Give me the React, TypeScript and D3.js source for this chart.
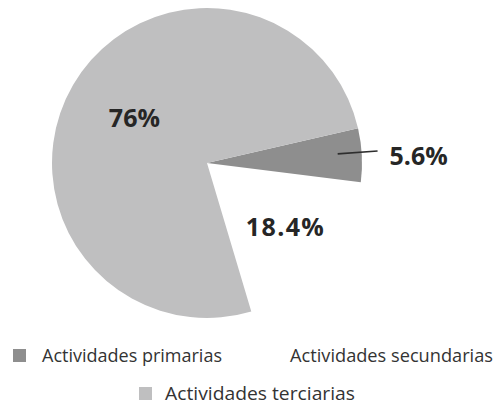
import * as d3 from "d3";
import React from "react";

const categories = ["Actividades primarias", "Actividades secundarias", "Actividades terciarias"];
const values = [5.6, 18.4, 76];
const valueLabels = ["5.6%", "18.4%", "76%"];
const colors = ["#8e8e8e", "none", "#bfbfc0"];

const W = 495;
const H = 404;
const cx = 207;
const cy = 163;
const radius = 155;
const deg = Math.PI / 180;

function App() {
  const pie = d3
    .pie<number>()
    .sort(null)
    .startAngle(77 * deg)
    .endAngle(77 * deg + 2 * Math.PI);
  const arcs = pie(values);
  const arc = d3.arc<d3.PieArcDatum<number>>().innerRadius(0).outerRadius(radius);

  // label radius for each slice (inside labels), the small one uses a leader line
  const labelR = [0, 102, 84];
  const polar = (a: number, r: number) => [Math.sin(a) * r, -Math.cos(a) * r];

  const leadAngle = 86 * deg;
  const [lx1, ly1] = polar(leadAngle, 131);
  const [lx2, ly2] = polar(leadAngle, 171);

  const labelStyle = {
    fontFamily: "'Open Sans', sans-serif",
    fontWeight: 700,
    fontSize: 25,
    fill: "#262626",
  };

  return (
    <svg width={W} height={H} style={{ display: "block", position: "absolute", left: 0, top: 0 }}>
      <rect width={W} height={H} fill="#ffffff" />
      <g transform={`translate(${cx},${cy})`}>
        {arcs.map((d, i) => (
          <path key={i} d={arc(d) || ""} fill={colors[i]} />
        ))}
        <line x1={lx1} y1={ly1} x2={lx2} y2={ly2} stroke="#2e2e2e" strokeWidth={1.6} />
        {arcs.map((d, i) => {
          if (i === 0) {
            return (
              <text key={i} x={lx2 + 12} y={ly2 + 7} dominantBaseline="middle" style={labelStyle}>
                {valueLabels[i]}
              </text>
            );
          }
          const mid = (d.startAngle + d.endAngle) / 2;
          const [x, y] = polar(mid, labelR[i]);
          return (
            <text
              key={i}
              x={x}
              y={y}
              textAnchor="middle"
              dominantBaseline="middle"
              style={labelStyle}
              textLength={i === 1 ? 78 : undefined}
            >
              {valueLabels[i]}
            </text>
          );
        })}
      </g>
      {/* legend */}
      <g fontFamily="'Open Sans', sans-serif" fontSize={17.5} fill="#333333">
        <rect x={13} y={349} width={13} height={13} fill={colors[0]} />
        <text x={42} y={362} textLength={180} lengthAdjust="spacingAndGlyphs">{categories[0]}</text>
        <text x={290} y={362} textLength={203} lengthAdjust="spacingAndGlyphs">{categories[1]}</text>
        <rect x={139} y={387} width={13} height={13} fill={colors[2]} />
        <text x={165} y={400} textLength={190} lengthAdjust="spacingAndGlyphs">{categories[2]}</text>
      </g>
    </svg>
  );
}

export default App;
